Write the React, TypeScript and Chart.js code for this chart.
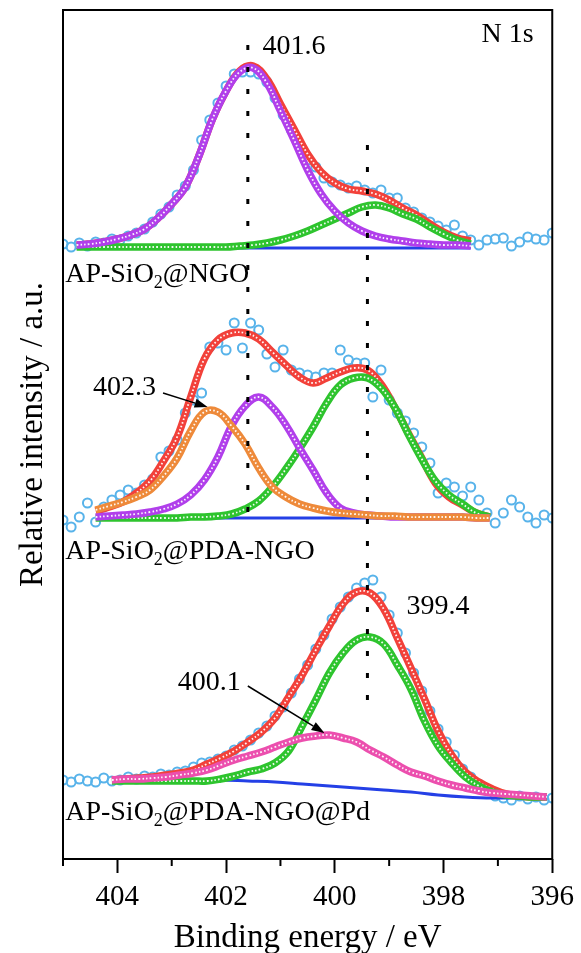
import React, { useEffect, useRef } from "react";
import { Chart, registerables } from "chart.js";

Chart.register(...registerables);

const SERIF = "'Liberation Serif', 'Times New Roman', Times, serif";

// ---------- axes ----------
const X_MIN = 396;
const X_MAX = 405;
const Y_MIN = 0;
const Y_MAX = 849;
const xTickValues = [404, 402, 400, 398, 396];
const xMinorTickValues = [405, 403, 401, 399, 397];

// ---------- measured spectra (binding energy, eV) ----------
const rawEnergy = [
  405.0, 404.85, 404.7, 404.55, 404.4, 404.25, 404.1, 403.95, 403.8, 403.65,
  403.5, 403.35, 403.2, 403.05, 402.9, 402.75, 402.6, 402.45, 402.3, 402.15,
  402.0, 401.85, 401.7, 401.55, 401.4, 401.25, 401.1, 400.95, 400.8, 400.65,
  400.5, 400.35, 400.2, 400.05, 399.9, 399.75, 399.6, 399.45, 399.3, 399.15,
  399.0, 398.85, 398.7, 398.55, 398.4, 398.25, 398.1, 397.95, 397.8, 397.65,
  397.5, 397.35, 397.2, 397.05, 396.9, 396.75, 396.6, 396.45, 396.3, 396.15, 396.0,
];
const rawNGO = [
  615, 612, 616, 613, 617, 616, 620, 619, 623, 626,
  630, 637, 645, 652, 664, 673, 689, 719, 739, 756,
  773, 785, 787, 787, 785, 777, 761, 744, 729, 714,
  699, 692, 681, 677, 674, 671, 673, 669, 666, 669,
  661, 661, 651, 647, 641, 637, 633, 629, 634, 623,
  619, 614, 619, 620, 621, 613, 617, 622, 620, 619, 626,
];
const rawPDA = [
  339, 332, 342, 356, 337, 352, 359, 364, 369, 366,
  374, 380, 402, 408, 419, 446, 459, 466, 512, 516,
  509, 536, 511, 536, 529, 505, 492, 509, 489, 486,
  484, 482, 486, 486, 509, 499, 496, 496, 462, 489,
  459, 446, 438, 426, 412, 396, 366, 376, 372, 363,
  372, 359, 346, 336, 346, 359, 352, 342, 336, 344, 341,
];
const rawPd = [
  79, 77, 80, 78, 77, 81, 78, 79, 82, 80,
  83, 82, 85, 84, 87, 88, 92, 96, 97, 100,
  103, 109, 113, 119, 126, 133, 143, 152, 166, 180,
  194, 210, 224, 240, 252, 262, 271, 276, 279, 262,
  244, 226, 206, 186, 168, 148, 130, 117, 104, 90,
  82, 75, 70, 63, 61, 59, 63, 60, 62, 59, 61,
];

// ---------- fits: AP-SiO2@NGO ----------
const fitEnergyNGO = [
  404.75, 404.5, 404.25, 404.0, 403.75, 403.5, 403.25, 403.0, 402.75, 402.5,
  402.25, 402.0, 401.75, 401.5, 401.25, 401.0, 400.75, 400.5, 400.25, 400.0,
  399.75, 399.5, 399.25, 399.0, 398.75, 398.5, 398.25, 398.0, 397.75, 397.5,
];
const ngoEnvelope = [
  614, 615, 617, 620, 624, 630, 641, 655, 672, 703,
  740, 768, 788, 793, 780, 755, 730, 705, 687, 676,
  670, 668, 665, 659, 651, 644, 635, 627, 621, 618,
];
const ngoPeak4016 = [
  614, 615, 617, 620, 624, 630, 641, 655, 672, 703,
  740, 768, 787, 791, 776, 748, 719, 689, 665, 648,
  636, 628, 623, 620, 618, 616, 615, 614, 614, 613,
];
const ngoPeak3994 = [
  612, 612, 612, 612, 612, 612, 612, 612, 612, 612,
  612, 612, 613, 614, 616, 619, 623, 628, 634, 640,
  646, 652, 654, 651, 645, 640, 632, 625, 619, 615,
];
const ngoBackgroundEnergy = [404.75, 397.5];
const ngoBackground = [611, 611];

// ---------- fits: AP-SiO2@PDA-NGO ----------
const fitEnergyPDA = [
  404.4, 404.15, 403.9, 403.65, 403.4, 403.15, 402.9, 402.65, 402.4, 402.15,
  401.9, 401.65, 401.4, 401.15, 400.9, 400.65, 400.4, 400.15, 399.9, 399.65,
  399.4, 399.15, 398.9, 398.65, 398.4, 398.15, 397.9, 397.65, 397.4, 397.15,
];
const pdaEnvelope = [
  348, 352, 357, 366, 378, 398, 422, 462, 500, 519,
  526, 526, 520, 507, 494, 482, 476, 481, 487, 491,
  489, 475, 452, 426, 401, 376, 362, 354, 346, 342,
];
const pdaPeak4023 = [
  349, 353, 357, 362, 369, 383, 401, 428, 447, 447,
  433, 415, 391, 372, 362, 355, 351, 348, 346, 345,
  344, 343, 343, 342, 342, 342, 342, 342, 341, 341,
];
const pdaPeak4016 = [
  342, 343, 344, 345, 347, 350, 355, 364, 379, 402,
  433, 453, 462, 452, 434, 411, 389, 366, 351, 346,
  344, 343, 342, 342, 342, 342, 342, 342, 341, 341,
];
const pdaPeak3994 = [
  341, 341, 341, 341, 341, 341, 341, 342, 342, 343,
  345, 350, 358, 372, 390, 410, 432, 456, 474, 481,
  481, 471, 452, 425, 400, 378, 364, 355, 346, 342,
];
const pdaBackgroundEnergy = [404.4, 397.15];
const pdaBackground = [341, 341];

// ---------- fits: AP-SiO2@PDA-NGO@Pd ----------
const fitEnergyPd = [
  404.1, 403.85, 403.6, 403.35, 403.1, 402.85, 402.6, 402.35, 402.1, 401.85,
  401.6, 401.35, 401.1, 400.85, 400.6, 400.35, 400.1, 399.85, 399.6, 399.35,
  399.1, 398.85, 398.6, 398.35, 398.1, 397.85, 397.6, 397.35, 397.1, 396.85,
  396.6, 396.35, 396.1,
];
const pdEnvelope = [
  79, 80, 81, 82, 84, 86, 89, 95, 101, 108,
  117, 127, 141, 162, 184, 209, 233, 255, 267, 266,
  250, 221, 191, 160, 128, 104, 87, 77, 70, 65,
  63, 62, 62,
];
const pdPeak4001 = [
  79, 80, 80, 81, 82, 84, 86, 89, 94, 99,
  103, 107, 112, 117, 121, 123, 124, 121, 117, 109,
  102, 94, 87, 83, 78, 74, 71, 68, 66, 65,
  64, 63, 62,
];
const pdPeak3994 = [
  78, 78, 78, 78, 78, 78, 78, 78, 80, 83,
  87, 90, 96, 108, 133, 159, 186, 206, 219, 222,
  215, 194, 170, 138, 113, 96, 82, 73, 67, 64,
  63, 62, 62,
];
const pdBackgroundEnergy = [404.1, 402.1, 401.6, 401.1, 400.6, 400.1, 399.6, 399.1, 398.6, 398.1, 397.6, 397.1, 396.1];
const pdBackground = [79, 79, 78, 77, 75, 73, 71, 69, 67, 64, 62, 61, 61];

// ---------- reference lines ----------
const markLineEnergyA = [401.6, 401.6];
const markLineValuesA = [814, 336];
const markLineEnergyB = [399.4, 399.4];
const markLineValuesB = [714, 159];

// ---------- annotations (data coordinates) ----------
const textLabels = [
  { parts: [{ t: "N 1s" }], x: 397.3, y: 824 },
  { parts: [{ t: "401.6" }], x: 401.33, y: 812 },
  { parts: [{ t: "AP-SiO" }, { t: "2", sub: true }, { t: "@NGO" }], x: 404.96, y: 584 },
  { parts: [{ t: "402.3" }], x: 404.45, y: 471 },
  { parts: [{ t: "AP-SiO" }, { t: "2", sub: true }, { t: "@PDA-NGO" }], x: 404.96, y: 307 },
  { parts: [{ t: "399.4" }], x: 398.68, y: 252 },
  { parts: [{ t: "400.1" }], x: 402.89, y: 176 },
  { parts: [{ t: "AP-SiO" }, { t: "2", sub: true }, { t: "@PDA-NGO@Pd" }], x: 404.96, y: 46 },
];
const arrows = [
  { from: [403.16, 466], to: [402.34, 452] },
  { from: [401.6, 173], to: [400.19, 126] },
];

// ---------- colours ----------
const C_RAW = "#58b3ea";
const C_ENV = "#f2413a";
const C_GREEN = "#2ec42e";
const C_PURPLE = "#b13feb";
const C_ORANGE = "#ee8a3a";
const C_PINK = "#ec4fae";
const C_BASE = "#2440e6";

const pts = (xs: number[], ys: number[]) => xs.map((x, i) => ({ x, y: ys[i] }));

function rawSet(xs: number[], ys: number[]) {
  return {
    data: pts(xs, ys),
    showLine: false,
    pointRadius: 4.5,
    pointBorderWidth: 2,
    pointBorderColor: C_RAW,
    pointBackgroundColor: "rgba(255,255,255,0)",
    order: 100,
  };
}

function fitSets(xs: number[], ys: number[], color: string, order: number) {
  return [
    {
      data: pts(xs, ys),
      showLine: true,
      borderColor: color,
      borderWidth: 7.5,
      borderJoinStyle: "round",
      pointRadius: 0,
      tension: 0.4,
      order,
    },
    {
      data: pts(xs, ys),
      showLine: true,
      borderColor: "rgba(255,255,255,0.95)",
      borderWidth: 1.8,
      borderDash: [1.6, 2.2],
      pointRadius: 0,
      tension: 0.4,
      order: order - 0.5,
    },
  ];
}

function baseSet(xs: number[], ys: number[]) {
  return {
    data: pts(xs, ys),
    showLine: true,
    borderColor: C_BASE,
    borderWidth: 3,
    pointRadius: 0,
    tension: 0.4,
    order: 90,
  };
}

function markSet(xs: number[], ys: number[]) {
  return {
    data: pts(xs, ys),
    showLine: true,
    borderColor: "#000",
    borderWidth: 3,
    borderDash: [5, 17],
    pointRadius: 0,
    order: 10,
  };
}

const overlayPlugin = {
  id: "overlay",
  afterDatasetsDraw(chart: any) {
    const { ctx, scales } = chart;
    const xs = scales.x;
    const ys = scales.y;
    ctx.save();
    ctx.strokeStyle = "#000";
    ctx.fillStyle = "#000";
    for (const a of arrows) {
      const x1 = xs.getPixelForValue(a.from[0]);
      const y1 = ys.getPixelForValue(a.from[1]);
      const x2 = xs.getPixelForValue(a.to[0]);
      const y2 = ys.getPixelForValue(a.to[1]);
      const ang = Math.atan2(y2 - y1, x2 - x1);
      const head = 13;
      const half = 4.5;
      const bx = x2 - head * Math.cos(ang);
      const by = y2 - head * Math.sin(ang);
      ctx.lineWidth = 1.5;
      ctx.beginPath();
      ctx.moveTo(x1, y1);
      ctx.lineTo(bx, by);
      ctx.stroke();
      ctx.beginPath();
      ctx.moveTo(x2, y2);
      ctx.lineTo(bx + half * Math.sin(ang), by - half * Math.cos(ang));
      ctx.lineTo(bx - half * Math.sin(ang), by + half * Math.cos(ang));
      ctx.closePath();
      ctx.fill();
    }
    ctx.textBaseline = "middle";
    ctx.textAlign = "left";
    for (const lab of textLabels) {
      let px = xs.getPixelForValue(lab.x);
      const py = ys.getPixelForValue(lab.y);
      for (const part of lab.parts as { t: string; sub?: boolean }[]) {
        ctx.font = `${part.sub ? 18 : 28}px ${SERIF}`;
        ctx.fillText(part.t, px, py + (part.sub ? 8 : 0));
        px += ctx.measureText(part.t).width;
      }
    }
    ctx.restore();
  },
  afterDraw(chart: any) {
    const { ctx, chartArea, scales } = chart;
    ctx.save();
    ctx.strokeStyle = "#000";
    ctx.lineWidth = 2;
    ctx.strokeRect(chartArea.left, chartArea.top, chartArea.right - chartArea.left, chartArea.bottom - chartArea.top);
    for (const v of xMinorTickValues) {
      const p = scales.x.getPixelForValue(v);
      ctx.beginPath();
      ctx.moveTo(p, chartArea.bottom);
      ctx.lineTo(p, chartArea.bottom + 7);
      ctx.stroke();
    }
    ctx.restore();
  },
};

export default function App() {
  const ref = useRef<HTMLCanvasElement>(null);

  useEffect(() => {
    if (!ref.current) return;
    const datasets: any[] = [
      rawSet(rawEnergy, rawNGO),
      rawSet(rawEnergy, rawPDA),
      rawSet(rawEnergy, rawPd),
      baseSet(ngoBackgroundEnergy, ngoBackground),
      baseSet(pdaBackgroundEnergy, pdaBackground),
      baseSet(pdBackgroundEnergy, pdBackground),
      ...fitSets(fitEnergyNGO, ngoEnvelope, C_ENV, 80),
      ...fitSets(fitEnergyNGO, ngoPeak3994, C_GREEN, 70),
      ...fitSets(fitEnergyNGO, ngoPeak4016, C_PURPLE, 60),
      ...fitSets(fitEnergyPDA, pdaEnvelope, C_ENV, 80),
      ...fitSets(fitEnergyPDA, pdaPeak3994, C_GREEN, 70),
      ...fitSets(fitEnergyPDA, pdaPeak4016, C_PURPLE, 60),
      ...fitSets(fitEnergyPDA, pdaPeak4023, C_ORANGE, 50),
      ...fitSets(fitEnergyPd, pdEnvelope, C_ENV, 80),
      ...fitSets(fitEnergyPd, pdPeak3994, C_GREEN, 70),
      ...fitSets(fitEnergyPd, pdPeak4001, C_PINK, 40),
      markSet(markLineEnergyA, markLineValuesA),
      markSet(markLineEnergyB, markLineValuesB),
    ];

    const chart = new Chart(ref.current, {
      type: "scatter",
      data: { datasets },
      options: {
        animation: false,
        responsive: false,
        devicePixelRatio: 1,
        events: [],
        layout: { padding: { left: 0, right: 28, top: 10, bottom: 0 } },
        plugins: { legend: { display: false }, tooltip: { enabled: false } },
        scales: {
          x: {
            type: "linear",
            min: X_MIN,
            max: X_MAX,
            reverse: true,
            border: { display: false },
            grid: {
              display: true,
              drawOnChartArea: false,
              drawTicks: true,
              tickLength: 14,
              tickWidth: 2,
              tickColor: "#000",
            },
            ticks: {
              color: "#000",
              font: { family: SERIF, size: 29 },
              padding: 7,
              maxRotation: 0,
              autoSkip: false,
            },
            afterBuildTicks: (axis: any) => {
              axis.ticks = xTickValues.map((v) => ({ value: v }));
            },
            afterFit: (axis: any) => {
              axis.height = 94;
            },
            title: {
              display: true,
              text: "Binding energy / eV",
              color: "#000",
              font: { family: SERIF, size: 33, lineHeight: 0.9 },
              padding: { top: 0, bottom: 0 },
            },
          },
          y: {
            type: "linear",
            min: Y_MIN,
            max: Y_MAX,
            border: { display: false },
            grid: { display: false },
            ticks: { display: false },
            afterFit: (axis: any) => {
              axis.width = 63;
            },
            title: {
              display: true,
              text: "Relative intensity / a.u.",
              color: "#000",
              font: { family: SERIF, size: 33 },
              padding: { top: 14, bottom: 0 },
            },
          },
        },
      } as any,
      plugins: [overlayPlugin],
    });
    return () => chart.destroy();
  }, []);

  return (
    <div style={{ position: "fixed", left: 0, top: 0, width: 581, height: 953, background: "#fff" }}>
      <canvas ref={ref} width={581} height={953} style={{ width: 581, height: 953, display: "block" }} />
    </div>
  );
}
